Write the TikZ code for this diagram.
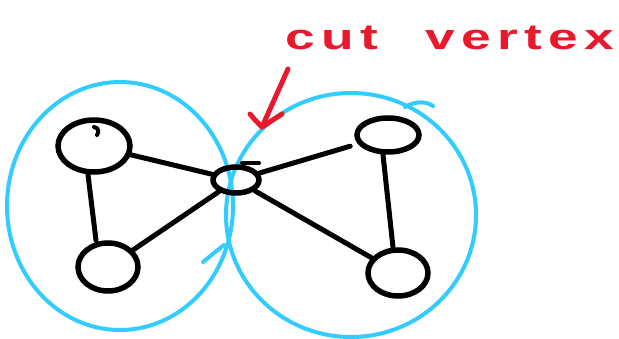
\documentclass[tikz,border=0pt]{standalone}
\usepackage{fontspec}
\newfontfamily\handfont[LetterSpace=12]{Liberation Sans}
\usetikzlibrary{shapes.geometric}
\definecolor{penblue}{HTML}{33CCFF}
\definecolor{penred}{HTML}{E8192C}
\tikzset{
  vtx/.style={ellipse, draw=black, line width=5.5pt, inner sep=0pt},
  edge/.style={draw=black, line width=5pt, line cap=round},
  blob/.style={ellipse, draw=penblue, line width=4pt, inner sep=0pt},
  bluestroke/.style={draw=penblue, line width=4pt, line cap=round},
  redpen/.style={draw=penred, line width=5pt, line cap=round, line join=round},
  blackstroke/.style={draw=black, line width=4pt, line cap=round},
}
\begin{document}
\begin{tikzpicture}[x=1pt,y=-1pt]
\useasboundingbox (0,0) rectangle (619,339);
\fill[white] (0,0) rectangle (619,339);
% blocks
\node[blob, minimum width=226pt, minimum height=248pt] (L) at (120,206) {};
\node[blob, minimum width=250pt, minimum height=244pt] (R) at (351,215) {};
\draw[bluestroke] (405,107) .. controls (415,101) and (426,101) .. (433,106);
\draw[bluestroke] (224,245) .. controls (215,252) and (208,258) .. (203,262);
% vertices
\node[vtx, minimum width=72pt, minimum height=52pt] (a) at (94,146) {};
\node[vtx, minimum width=60pt, minimum height=48pt] (b) at (108,267) {};
\node[vtx, minimum width=46pt, minimum height=26pt] (c) at (236,180) {};
\node[vtx, minimum width=62pt, minimum height=34pt] (d) at (388,135) {};
\node[vtx, minimum width=60pt, minimum height=46pt] (e) at (398,273) {};
% edges
\draw[edge] ([xshift=-6pt]a.south) -- ([xshift=-12pt]b.north);
\draw[edge] (a) -- (c);
\draw[edge] (b) -- (c);
\draw[edge, shorten >=8pt] (c) -- (d);
\draw[edge] (c) -- (e);
\draw[edge] ([xshift=-5pt]d.south) -- ([xshift=-5pt]e.north);
% small pen ticks
\draw[blackstroke] (242,163) -- (259,163);
\draw[blackstroke] (94,127) .. controls (99,128) and (99,132) .. (97,135);
% label
\node[anchor=base west, text=penred, inner sep=0pt, font=\handfont\bfseries\fontsize{36}{36}\selectfont] (lbl) at (285,50) {\scalebox{1.48}[1]{cut\hspace{32pt}vertex}};
% arrow
\coordinate (as) at (288,69);
\coordinate (tip) at (262,127);
\coordinate (b1) at (250,114);
\coordinate (b2) at (282,114);
\draw[redpen] (as) -- (tip);
\draw[redpen] (b1) .. controls (255,120) .. (tip) -- (b2);
\end{tikzpicture}
\end{document}
